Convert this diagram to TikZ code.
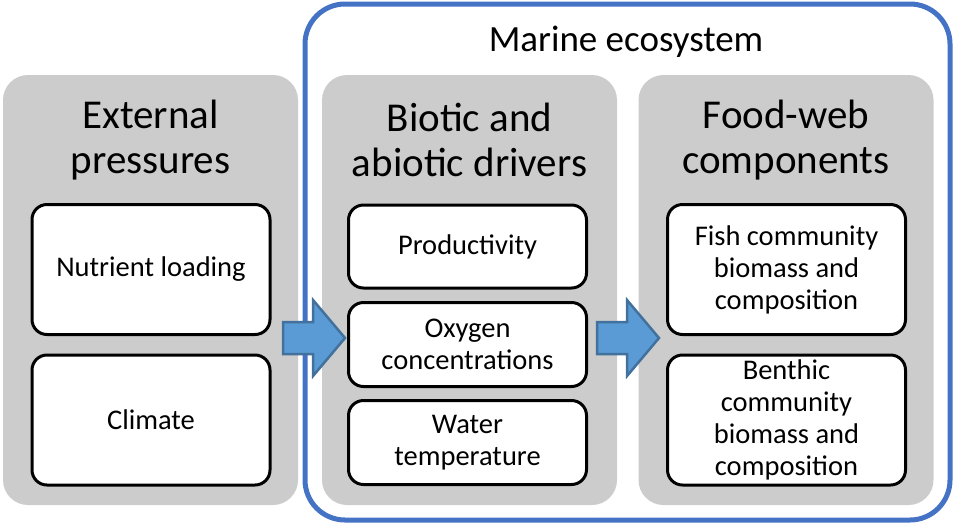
\documentclass[tikz,border=0pt]{standalone}
\usepackage{fontspec}
\setmainfont{Carlito}
\definecolor{panelgray}{RGB}{204,204,204}
\definecolor{marineblue}{RGB}{68,114,196}
\definecolor{arrowfill}{RGB}{91,155,213}
\definecolor{arrowline}{RGB}{65,113,156}
\tikzset{
  panel/.style={fill=panelgray, rounded corners=25pt, minimum width=295pt, minimum height=430pt, inner sep=0pt},
  itembox/.style={draw=black, line width=3pt, fill=white, rounded corners=15pt, minimum width=238pt, inner sep=0pt, align=center, font=\fontsize{28.5}{32}\selectfont},
  paneltitle/.style={align=center, font=\fontsize{41}{45}\selectfont},
  blockarrow/.style={fill=arrowfill, draw=arrowline, line width=2.5pt, line join=miter}
}
\begin{document}
\begin{tikzpicture}[x=1pt,y=-1pt]
\useasboundingbox (0,0) rectangle (957,531);
% outer ecosystem frame
\draw[marineblue, line width=5pt, rounded corners=40pt] (305,4) rectangle (950,520);
\node (marine) at (626,42) {\fontsize{37}{44}\selectfont Marine ecosystem};
% panels
\node[panel] (ext) at (150.5,290) {};
\node[panel] (drv) at (469.5,290) {};
\node[panel] (fw) at (786,290) {};
\node[paneltitle] (extt) at (150.5,140) {External\\pressures};
\node[paneltitle] (drvt) at (469.5,140) {Biotic and\\abiotic drivers};
\node[paneltitle] (fwt) at (786,140) {Food-web\\components};
% items
\node[itembox, minimum height=130pt] (nutr) at (151,269.5) {Nutrient loading};
\node[itembox, minimum height=130pt] (clim) at (151,420) {Climate};
\node[itembox, minimum height=83pt] (prod) at (467.5,246.5) {Productivity};
\node[itembox, minimum height=84pt] (oxy) at (467.5,344.5) {Oxygen\\concentrations};
\node[itembox, minimum height=84pt] (temp) at (467.5,442.5) {Water\\temperature};
\node[itembox, minimum height=130pt] (fish) at (786.5,269.5) {Fish community\\biomass and\\composition};
\node[itembox, minimum height=130pt] (bent) at (786.5,420) {Benthic\\community\\biomass and\\composition};
% arrows
\draw[blockarrow] (283,322) -- (313,322) -- (313,300) -- (345,338) -- (313,376) -- (313,354) -- (283,354) -- cycle;
\draw[blockarrow] (597,322) -- (627,322) -- (627,300) -- (659,338) -- (627,376) -- (627,354) -- (597,354) -- cycle;
\end{tikzpicture}
\end{document}
